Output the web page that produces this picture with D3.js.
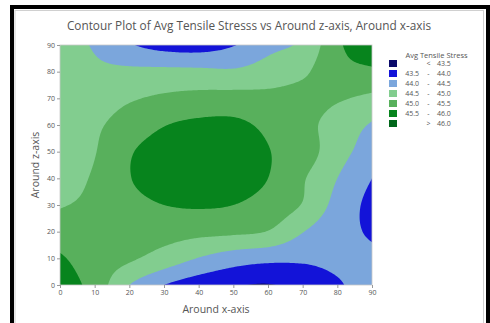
<!DOCTYPE html>
<html>
<head>
<meta charset="utf-8">
<script src="https://cdn.jsdelivr.net/npm/d3@7"></script>
<style>
  body { margin: 0; background: #fff; }
  svg { display: block; font-family: "Open Sans", "Noto Sans", sans-serif; }
</style>
</head>
<body>
<svg id="chart" width="490" height="323"></svg>
<script>
// Sample positions of the measured grid (degrees)
const gridX = [0, 10, 20, 30, 40, 50, 60, 70, 80, 90];   // Around x-axis
const gridZ = [0, 10, 20, 30, 40, 50, 60, 70, 80, 90];   // Around z-axis

// Avg tensile stress at each grid node, one row per z-axis value (0 -> 90)
const stressZ0  = [45.80, 45.30, 44.50, 44.00, 43.70, 43.55, 43.47, 43.70, 43.95, 44.20];
const stressZ10 = [45.56, 45.25, 45.07, 44.79, 44.48, 44.24, 44.13, 44.08, 44.10, 44.08];
const stressZ20 = [45.25, 45.20, 45.20, 45.19, 45.13, 45.09, 44.98, 44.52, 44.15, 43.95];
const stressZ30 = [44.97, 45.10, 45.35, 45.50, 45.55, 45.50, 45.30, 44.97, 44.33, 43.85];
const stressZ40 = [44.85, 45.05, 45.48, 45.70, 45.78, 45.72, 45.50, 45.05, 44.50, 44.00];
const stressZ50 = [44.78, 44.98, 45.45, 45.72, 45.80, 45.75, 45.52, 45.25, 44.70, 44.25];
const stressZ60 = [44.75, 44.93, 45.20, 45.48, 45.60, 45.60, 45.40, 45.15, 44.80, 44.45];
const stressZ70 = [44.72, 44.80, 44.95, 45.08, 45.15, 45.18, 45.14, 45.15, 45.05, 44.90];
const stressZ80 = [44.72, 44.60, 44.60, 44.62, 44.61, 44.57, 44.72, 44.92, 45.32, 45.40];
const stressZ90 = [44.70, 44.45, 44.05, 43.80, 43.75, 43.97, 44.35, 44.60, 45.40, 45.95];
const stressRows = [stressZ0, stressZ10, stressZ20, stressZ30, stressZ40,
                    stressZ50, stressZ60, stressZ70, stressZ80, stressZ90];

// Contour levels and band colours (lowest band first)
const levels = [43.5, 44.0, 44.5, 45.0, 45.5, 46.0];
const bandColors = ["#0b0b6b", "#1313d8", "#7ba6dc", "#82cd8f", "#58b05c", "#07841d", "#00661a"];

// Legend rows
const legendLow  = ["", "43.5", "44.0", "44.5", "45.0", "45.5", ""];
const legendSep  = ["<", "-", "-", "-", "-", "-", ">"];
const legendHigh = ["43.5", "44.0", "44.5", "45.0", "45.5", "46.0", "46.0"];

const xTicks = [0, 10, 20, 30, 40, 50, 60, 70, 80, 90];
const yTicks = [0, 10, 20, 30, 40, 50, 60, 70, 80, 90];

const svg = d3.select("#chart");
const plot = { left: 60, right: 372, top: 45, bottom: 285 };

const x = d3.scaleLinear().domain([0, 90]).range([plot.left, plot.right]);
const y = d3.scaleLinear().domain([0, 90]).range([plot.bottom, plot.top]);

// Frame
svg.append("rect").attr("x", 0).attr("y", 0).attr("width", 490).attr("height", 323).attr("fill", "#fff");
svg.append("rect").attr("x", 12).attr("y", 7).attr("width", 476).attr("height", 330)
  .attr("fill", "none").attr("stroke", "#000").attr("stroke-width", 4);
svg.append("rect").attr("x", 15).attr("y", 10.5).attr("width", 468.5).attr("height", 330)
  .attr("fill", "none").attr("stroke", "#d0d0d0").attr("stroke-width", 1);

// Smooth the node table onto a fine grid (Catmull-Rom, both directions)
const step = 0.5;
const n = Math.round(90 / step) + 1;
function node(r, c) {
  const last = gridX.length - 1;
  // linear extension past the border
  if (c < 0) return 2 * node(r, 0) - node(r, 1);
  if (c > last) return 2 * node(r, last) - node(r, last - 1);
  if (r < 0) return 2 * node(0, c) - node(1, c);
  if (r > last) return 2 * node(last, c) - node(last - 1, c);
  return stressRows[r][c];
}
function cr(p0, p1, p2, p3, t) {
  return 0.5 * ((2 * p1) + (-p0 + p2) * t + (2 * p0 - 5 * p1 + 4 * p2 - p3) * t * t +
                (-p0 + 3 * p1 - 3 * p2 + p3) * t * t * t);
}
function sample(X, Z) {
  const u = X / 10, v = Z / 10;
  const c = Math.min(Math.floor(u), gridX.length - 2), r = Math.min(Math.floor(v), gridZ.length - 2);
  const tu = u - c, tv = v - r;
  const cols = [];
  for (let k = -1; k <= 2; k++) {
    cols.push(cr(node(r + k, c - 1), node(r + k, c), node(r + k, c + 1), node(r + k, c + 2), tu));
  }
  return cr(cols[0], cols[1], cols[2], cols[3], tv);
}
const field = new Array(n * n);
for (let j = 0; j < n; j++) {
  for (let i = 0; i < n; i++) field[j * n + i] = sample(i * step, j * step);
}

const contours = d3.contours().size([n, n]).thresholds(levels)(field);
const toPlot = d3.geoTransform({
  point(cx, cy) { this.stream.point(x((cx - 0.5) * step), y((cy - 0.5) * step)); }
});
const path = d3.geoPath(toPlot);

svg.append("clipPath").attr("id", "plotClip").append("rect")
  .attr("x", plot.left).attr("y", plot.top)
  .attr("width", plot.right - plot.left).attr("height", plot.bottom - plot.top);

const g = svg.append("g").attr("clip-path", "url(#plotClip)");
g.append("rect").attr("x", plot.left).attr("y", plot.top)
  .attr("width", plot.right - plot.left).attr("height", plot.bottom - plot.top)
  .attr("fill", bandColors[0]);
g.selectAll("path.band").data(contours).join("path")
  .attr("class", "band")
  .attr("d", path)
  .attr("fill", (d, i) => bandColors[i + 1]);

svg.append("rect").attr("x", plot.left).attr("y", plot.top)
  .attr("width", plot.right - plot.left).attr("height", plot.bottom - plot.top)
  .attr("fill", "none").attr("stroke", "#c8c8c8").attr("stroke-width", 0.8);

// Axes
const axisColor = "#555";
const xAxis = svg.append("g").attr("transform", `translate(0,${plot.bottom})`)
  .call(d3.axisBottom(x).tickValues(xTicks).tickSize(3).tickPadding(2));
const yAxis = svg.append("g").attr("transform", `translate(${plot.left},0)`)
  .call(d3.axisLeft(y).tickValues(yTicks).tickSize(3).tickPadding(2));
[xAxis, yAxis].forEach(a => {
  a.select(".domain").remove();
  a.selectAll(".tick line").attr("stroke", "#999");
  a.selectAll("text").attr("fill", axisColor).attr("font-size", 7)
    .attr("font-family", '"Open Sans", sans-serif');
});

// Titles
svg.append("text").attr("x", 249).attr("y", 29.5).attr("text-anchor", "middle")
  .attr("font-size", 11.8).attr("fill", "#555")
  .text("Contour Plot of Avg Tensile Stresss vs Around z-axis, Around x-axis");
svg.append("text").attr("x", (plot.left + plot.right) / 2).attr("y", 312.5).attr("text-anchor", "middle")
  .attr("font-size", 10.5).attr("fill", "#555").text("Around x-axis");
svg.append("text").attr("transform", `translate(38.5,${(plot.top + plot.bottom) / 2}) rotate(-90)`)
  .attr("text-anchor", "middle").attr("font-size", 10.5).attr("fill", "#555").text("Around z-axis");

// Legend
const lg = svg.append("g");
lg.append("text").attr("x", 436.5).attr("y", 57.5).attr("text-anchor", "middle")
  .attr("font-size", 7.5).attr("fill", "#555").text("Avg Tensile Stress");
bandColors.forEach((col, i) => {
  const cy = 63.5 + i * 10;
  lg.append("rect").attr("x", 389).attr("y", cy - 3.5).attr("width", 8).attr("height", 7).attr("fill", col);
  lg.append("text").attr("x", 419).attr("y", cy + 2.4).attr("text-anchor", "end")
    .attr("font-size", 7).attr("fill", "#555").text(legendLow[i]);
  lg.append("text").attr("x", 428.5).attr("y", cy + 2.4).attr("text-anchor", "middle")
    .attr("font-size", 7).attr("fill", "#555").text(legendSep[i]);
  lg.append("text").attr("x", 437).attr("y", cy + 2.4).attr("text-anchor", "start")
    .attr("font-size", 7).attr("fill", "#555").text(legendHigh[i]);
});
</script>
</body>
</html>
